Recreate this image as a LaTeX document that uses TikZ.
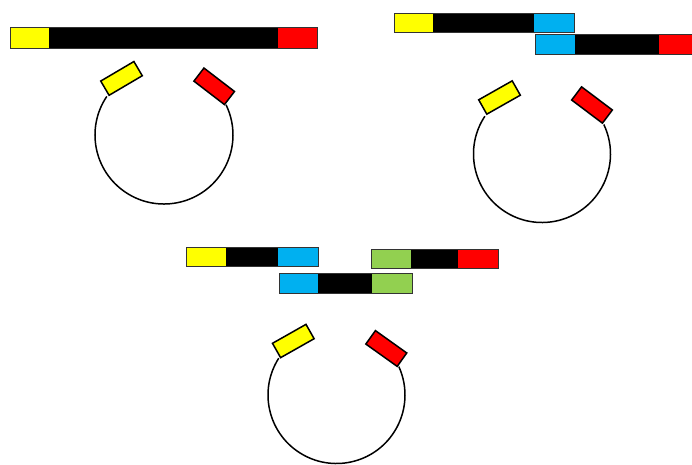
\documentclass[tikz,border=0pt]{standalone}
\usetikzlibrary{calc}
\definecolor{cyel}{HTML}{FFFF00}
\definecolor{cred}{HTML}{FF0000}
\definecolor{cblue}{HTML}{00B0F0}
\definecolor{cgreen}{HTML}{92D050}
\definecolor{cedge}{HTML}{333333}
\tikzset{
  barbody/.style={fill=black,draw=cedge,line width=0.9pt},
  tag/.style={draw=black,line width=1.5pt,minimum width=38.5pt,minimum height=16.5pt,inner sep=0pt,outer sep=0pt},
  ring/.style={draw=black,line width=1.5pt}
}
\begin{document}
\begin{tikzpicture}[x=1pt,y=1pt]
\useasboundingbox (0,0) rectangle (692,-464);
\clip (0,0) rectangle (692,-464);
% ---------- Panel 1 ----------
\path[barbody] (10,-27) rectangle (317,-48);
\fill[cyel] (10.5,-27.5) rectangle (49,-47.5);
\fill[cred] (278,-27.5) rectangle (316.5,-47.5);
\draw[ring] (164,-135) ++(146:69) arc[start angle=146,end angle=386,radius=69];
\node[tag,fill=cyel,rotate=30.5] (y1) at (121.5,-78.4) {};
\node[tag,fill=cred,rotate=-37.5] (r1) at (214.2,-86.3) {};
% ---------- Panel 2 ----------
\path[barbody] (394,-13) rectangle (574,-32);
\fill[cyel] (394.5,-13.5) rectangle (433,-31.5);
\fill[cblue] (534,-13.5) rectangle (573.5,-31.5);
\path[barbody] (535,-34.5) rectangle (699,-54);
\fill[cblue] (535.5,-35) rectangle (575,-53.5);
\fill[cred] (659,-35) rectangle (698.5,-53.5);
\draw[ring] (542,-154) ++(146.5:68.5) arc[start angle=146.5,end angle=385.5,radius=68.5];
\node[tag,fill=cyel,rotate=29.5] (y2) at (499.5,-97.5) {};
\node[tag,fill=cred,rotate=-37] (r2) at (592,-105) {};
% ---------- Panel 3 ----------
\path[barbody] (186,-247) rectangle (318,-266.5);
\fill[cyel] (186.5,-247.5) rectangle (225.7,-266);
\fill[cblue] (278,-247.5) rectangle (317.5,-266);
\path[barbody] (371,-249) rectangle (498,-268);
\fill[cgreen] (371.5,-249.5) rectangle (410.7,-267.5);
\fill[cred] (458,-249.5) rectangle (497.5,-267.5);
\path[barbody] (279,-273) rectangle (412,-293);
\fill[cblue] (279.5,-273.5) rectangle (318,-292.5);
\fill[cgreen] (372,-273.5) rectangle (411.5,-292.5);
\draw[ring] (336.5,-395) ++(147.5:68.5) arc[start angle=147.5,end angle=384.5,radius=68.5];
\node[tag,fill=cyel,rotate=29.5] (y3) at (293.3,-341) {};
\node[tag,fill=cred,rotate=-35.5] (r3) at (386.3,-348.5) {};
\end{tikzpicture}
\end{document}
